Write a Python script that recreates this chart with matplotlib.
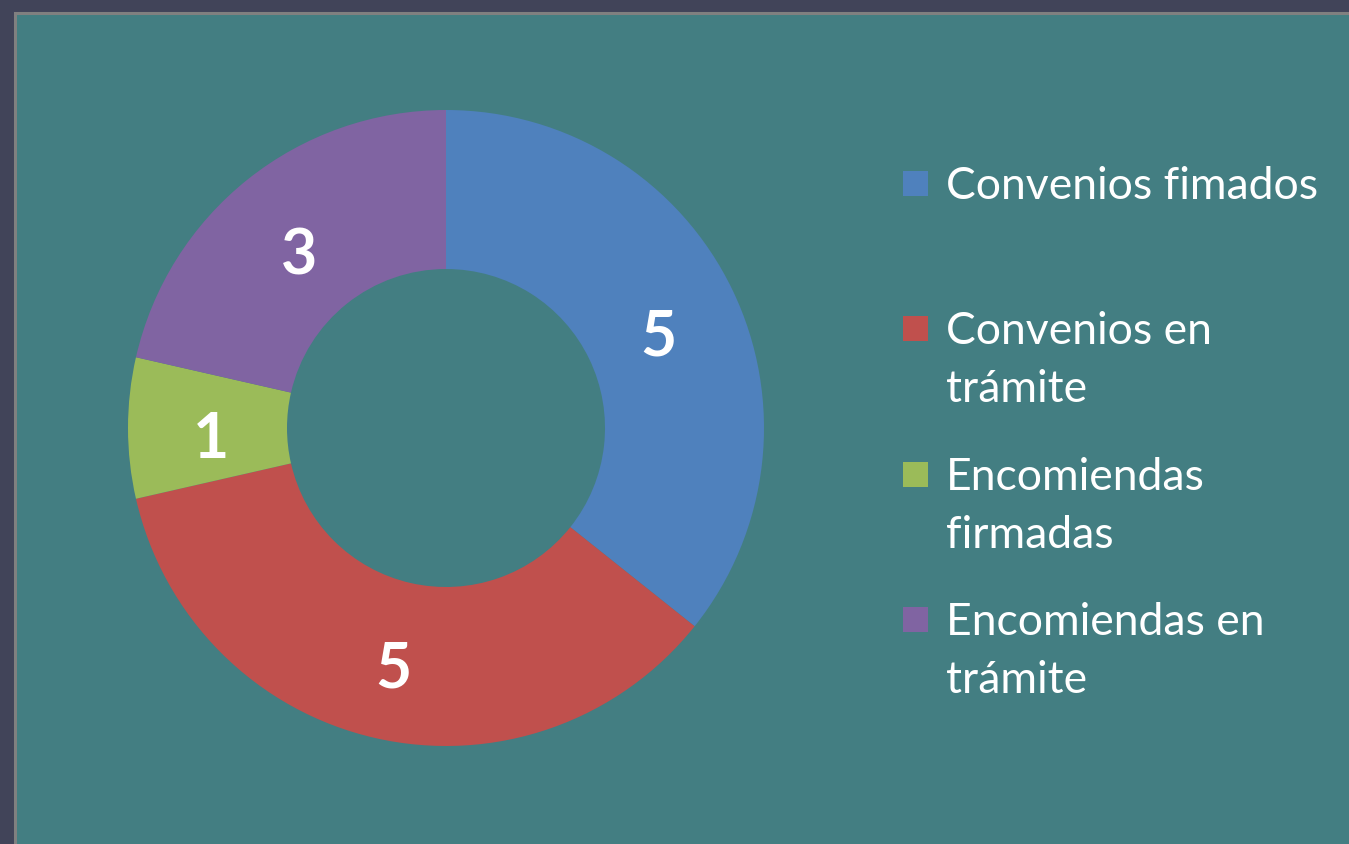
import matplotlib.pyplot as plt
from matplotlib.patches import Rectangle
from matplotlib.transforms import offset_copy

categories = ["Convenios fimados", "Convenios en\ntrámite",
              "Encomiendas\nfirmadas", "Encomiendas en\ntrámite"]
values = [5, 5, 1, 3]
colors = ["#4f81bd", "#c0504d", "#9bbb59", "#8064a2"]

W, H = 1349, 845
fig = plt.figure(figsize=(W / 100, H / 100), dpi=100, facecolor="#414459")

# teal panel with grey border
panel = Rectangle((14.5 / W, -0.1), 1.2, (H - 13.5) / H + 0.1,
                  transform=fig.transFigure, facecolor="#437e82",
                  edgecolor="#808080", linewidth=2.2, zorder=-10)
fig.patches.append(panel)

cx, cy, r = 446, 429, 318
ax = fig.add_axes([(cx - r) / W, (H - cy - r) / H, 2 * r / W, 2 * r / H])
ax.set_facecolor("none")
total = sum(values)
wedges, texts, autotexts = ax.pie(
    values, colors=colors, startangle=90, counterclock=False,
    radius=1, wedgeprops=dict(width=0.5, edgecolor="none"),
    autopct=lambda p: f"{round(p * total / 100)}", pctdistance=0.74,
    textprops=dict(color="white", fontsize=45, fontweight="bold",
                   family="Lato"))
ax.set_xlim(-1, 1)
ax.set_ylim(-1, 1)

# nudge the value labels down a little, like the original
for t in autotexts:
    t.set_transform(offset_copy(ax.transData, fig=fig, x=0, y=-11, units="dots"))

# legend drawn by hand so the square sits on the first line
legend_y = [184, 329, 475, 620]
for label, color, y in zip(categories, colors, legend_y):
    fig.patches.append(Rectangle((903 / W, (H - y - 12.5) / H), 25 / W, 25 / H,
                                 transform=fig.transFigure,
                                 facecolor=color, edgecolor="none"))
    fig.text(946 / W, (H - y + 18) / H, label, color="white", fontsize=32,
             family="Lato", va="top", ha="left", linespacing=1.52)

fig.savefig("out.png", dpi=100, facecolor=fig.get_facecolor())
